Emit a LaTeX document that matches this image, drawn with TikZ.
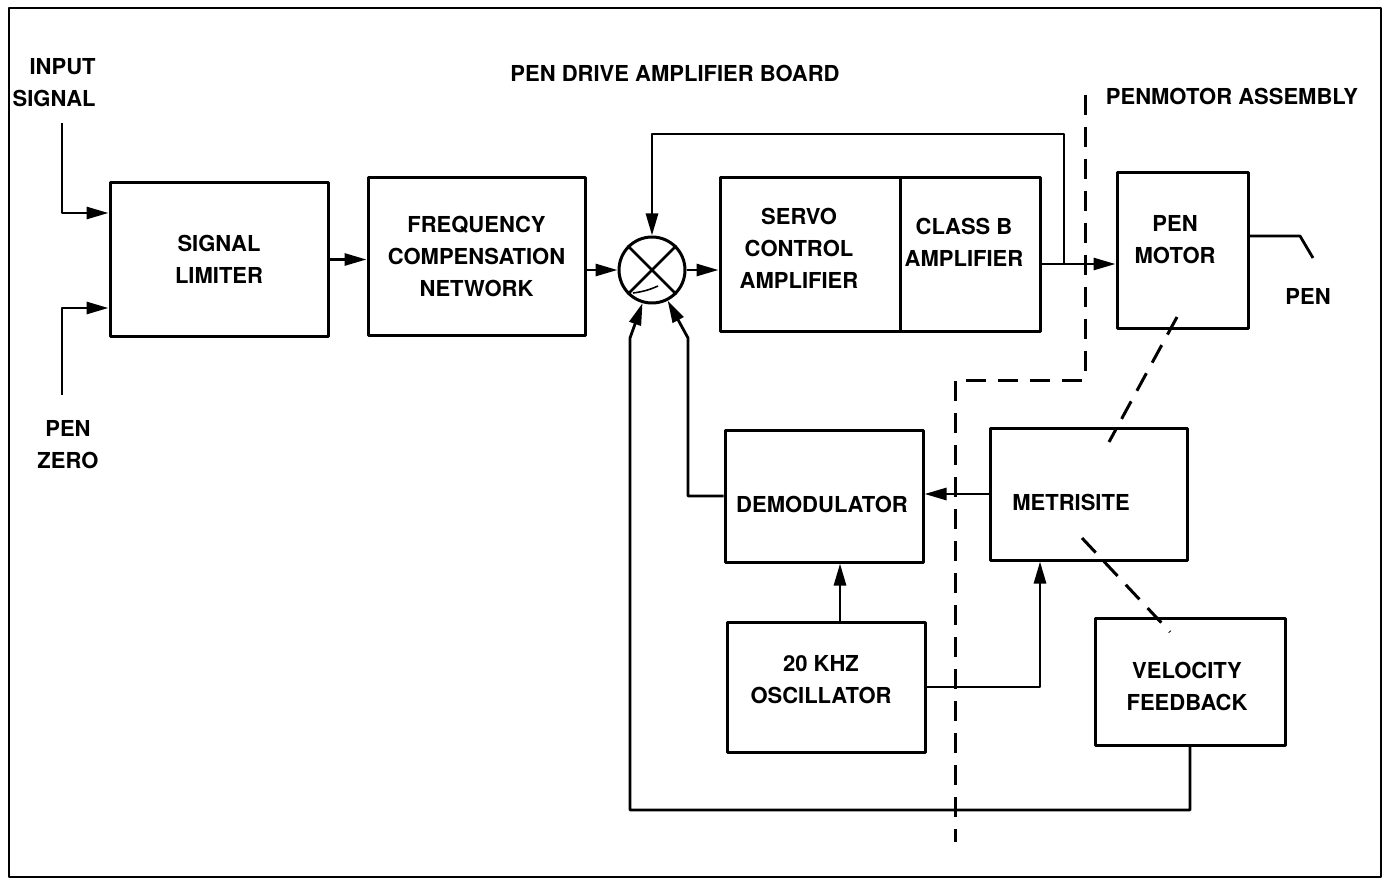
\documentclass[tikz,border=0pt]{standalone}
\usepackage{fontspec}
\setmainfont{TeX Gyre Heros}
\usetikzlibrary{arrows.meta}
\newcommand\dlbl{\fontsize{11}{16}\selectfont\bfseries}
\begin{document}
\begin{tikzpicture}[x=0.5pt,y=-0.5pt,line join=round,
  blk/.style={draw,line width=1.5pt,inner sep=0pt,align=center,font=\dlbl},
  lbl/.style={inner sep=0pt,align=center,font=\dlbl},
  wire/.style={line width=1.4pt},
  arr/.style={wire,-{Triangle[length=11pt,width=6pt]}},
  dsh/.style={line width=1.5pt,dash pattern=on 10pt off 6pt}]
\useasboundingbox (0,0) rectangle (1390,882);
\draw[line width=1.3pt] (9,8) rectangle (1381,877);
% blocks
\node[blk,minimum width=109pt,minimum height=76.5pt] (lim) at (219,259.5) {SIGNAL\\LIMITER};
\node[blk,minimum width=108.5pt,minimum height=78.5pt] (fcn) at (476.5,256.5) {FREQUENCY\\COMPENSATION\\NETWORK};
\node[blk,minimum width=90pt,minimum height=76.5pt] (servo) at (810,254.5) {};
\node[lbl] (servot) at (799,248) {SERVO\\CONTROL\\AMPLIFIER};
\node[blk,minimum width=70pt,minimum height=76.5pt] (classb) at (970,254.5) {};
\node[lbl] (classbt) at (964,242) {CLASS B\\AMPLIFIER};
\node[blk,minimum width=65.5pt,minimum height=77.5pt] (motor) at (1182.5,250.5) {};
\node[lbl] (motort) at (1175,240) {PEN\\MOTOR};
\node[blk,minimum width=99pt,minimum height=66pt] (demod) at (824,496) {};
\node[lbl] (demodt) at (822,504) {DEMODULATOR};
\node[blk,minimum width=98.5pt,minimum height=66pt] (metr) at (1088.5,494) {};
\node[lbl] (metrt) at (1071,502) {METRISITE};
\node[blk,minimum width=99pt,minimum height=65pt] (osc) at (826,687) {};
\node[lbl] (osct) at (821,680) {20 KHZ\\OSCILLATOR};
\node[blk,minimum width=95pt,minimum height=63.5pt] (vel) at (1190,681.5) {};
\node[lbl] (velt) at (1187,686) {VELOCITY\\FEEDBACK};
\node[draw,circle,line width=1.5pt,minimum size=33pt,inner sep=0pt] (sum) at (652,270) {};
\draw[line width=1.4pt] (sum.45) -- (sum.225) (sum.135) -- (sum.315);
\draw[line width=0.8pt] ([shift={(-19,23)}]sum.center) to[bend right=8] ([shift={(6,16)}]sum.center);
% labels
\node[lbl,align=right,anchor=east] (insig) at (96,83) {INPUT\\SIGNAL};
\node[lbl] (pzero) at (68,445) {PEN\\ZERO};
\node[lbl] (board) at (675,73) {PEN DRIVE AMPLIFIER BOARD};
\node[lbl] (assy) at (1232,96) {PENMOTOR ASSEMBLY};
\node[lbl] (pen) at (1308,296) {PEN};
% coordinates
\coordinate (inTop) at (62,123);
\coordinate (inC) at (62,213);
\coordinate (pzBot) at (62,395);
\coordinate (pzC) at (62,308);
\coordinate (outJ) at (1064,264);
\coordinate (fbA) at (1064,134);
\coordinate (bR) at (1190,810);
\coordinate (bL) at (630,810);
\coordinate (bU) at (630,338);
\coordinate (dL) at (688,496);
\coordinate (dU) at (688,338);
\coordinate (om) at (1040,687);
\coordinate (penC) at (1300,236);
\coordinate (penE) at (1313,258);
\coordinate (d1) at (1085,95);
\coordinate (d2) at (1085,380);
\coordinate (d3) at (955,380);
\coordinate (d4) at (955,842);
\coordinate (m1) at (1177,317);
\coordinate (m2) at (1109,442);
\coordinate (v1) at (1082,538);
\coordinate (v2) at (1170,632);
% connectors
\draw[arr] (inTop) -- (inC) -- (inC -| lim.west);
\draw[arr] (pzBot) -- (pzC) -- (pzC -| lim.west);
\draw[arr] (lim.east) -- (lim.east -| fcn.west);
\draw[arr] (sum.west -| fcn.east) -- (sum.west);
\draw[arr] (sum.east) -- (sum.east -| servo.west);
\draw[arr] (outJ -| classb.east) -- (outJ -| motor.west);
\draw[arr] (outJ) -- (fbA) -- (fbA -| sum.north) -- (sum.north);
\draw[arr] (vel.south) -- (bR) -- (bL) -- (bU) -- (sum.254);
\draw[arr] (demod.west) -- (dL) -- (dU) -- (sum.297);
\draw[arr] (metr.west) -- (metr.west -| demod.east);
\draw[arr] ([xshift=7pt]osc.north) -- ([xshift=7pt]osc.north |- demod.south);
\draw[arr] (osc.east |- om) -- (om) -- (om |- metr.south);
\draw[wire] (penC -| motor.east) -- (penC) -- (penE);
\draw[dsh] (d1) -- (d2) -- (d3) -- (d4);
\draw[dsh] (m1) -- (m2);
\draw[dsh] (v1) -- (v2);
\end{tikzpicture}
\end{document}
